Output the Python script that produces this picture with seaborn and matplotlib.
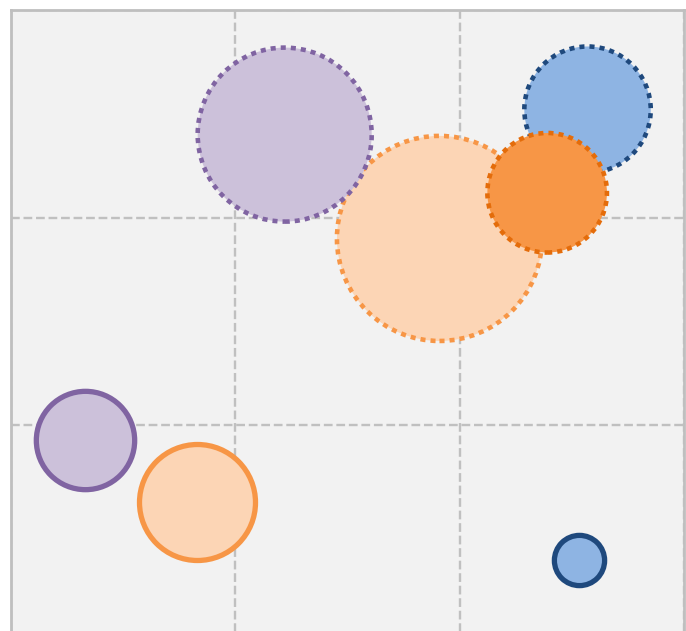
#!/usr/bin/env python3

import matplotlib
matplotlib.use('Agg')
import matplotlib.pyplot as plt
import pandas as pd
import seaborn as sns

# Bubble data
series = ['dotted', 'dotted', 'dotted', 'dotted', 'solid', 'solid', 'solid']
x_vals = [1.22, 1.91, 2.57, 2.39, 0.33, 0.83, 2.53]
y_vals = [2.40, 1.90, 2.52, 2.12, 0.93, 0.63, 0.35]
bubble_vals = [72, 100, 38, 34, 23, 32, 6]
fill_colors = ['#ccc1da', '#fcd5b5', '#8eb4e3', '#f79646', '#ccc1da', '#fcd5b5', '#8eb4e3']
edge_colors = ['#8064a2', '#f79646', '#1f497d', '#e46c0a', '#8064a2', '#f79646', '#1f497d']

axis_ticks = [0, 1, 2, 3]


def plot_bubbles():
    """Bubble chart with dotted and solid outlined groups"""
    df = pd.DataFrame({
        'series': series,
        'x': x_vals,
        'y': y_vals,
        'value': bubble_vals,
        'fill': fill_colors,
        'edge': edge_colors,
    })
    # biggest bubbles first so small ones sit on top
    df = df.sort_values('value', ascending=False)

    sns.set_style('white')
    fig = plt.figure(figsize=(6.86, 6.31), dpi=100)
    ax = fig.add_axes([11 / 686, -2 / 631, 673 / 686, 623 / 631])
    ax.set_facecolor('#f2f2f2')

    for _, row in df.iterrows():
        dotted = row['series'] == 'dotted'
        sns.scatterplot(
            x=[row['x']], y=[row['y']], ax=ax,
            s=row['value'] * 218,
            color=row['fill'],
            edgecolor=row['edge'],
            linewidth=3.3 if dotted else 3.8,
            linestyle=(0, (1.1, 1.1)) if dotted else '-',
            legend=False, zorder=3,
        )

    ax.set_xlim(axis_ticks[0], axis_ticks[-1])
    ax.set_ylim(axis_ticks[0], axis_ticks[-1])
    ax.set_xticks(axis_ticks)
    ax.set_yticks(axis_ticks)
    ax.tick_params(length=0, labelbottom=False, labelleft=False)
    ax.set_xlabel('')
    ax.set_ylabel('')
    ax.grid(True, linestyle='--', color='#c0c0c0', linewidth=1.7, zorder=0)
    ax.set_axisbelow(True)
    for sp in ax.spines.values():
        sp.set_color('#bfbfbf')
        sp.set_linewidth(2.0)

    fig.savefig('out.png', dpi=100)


if __name__ == '__main__':
    plot_bubbles()
